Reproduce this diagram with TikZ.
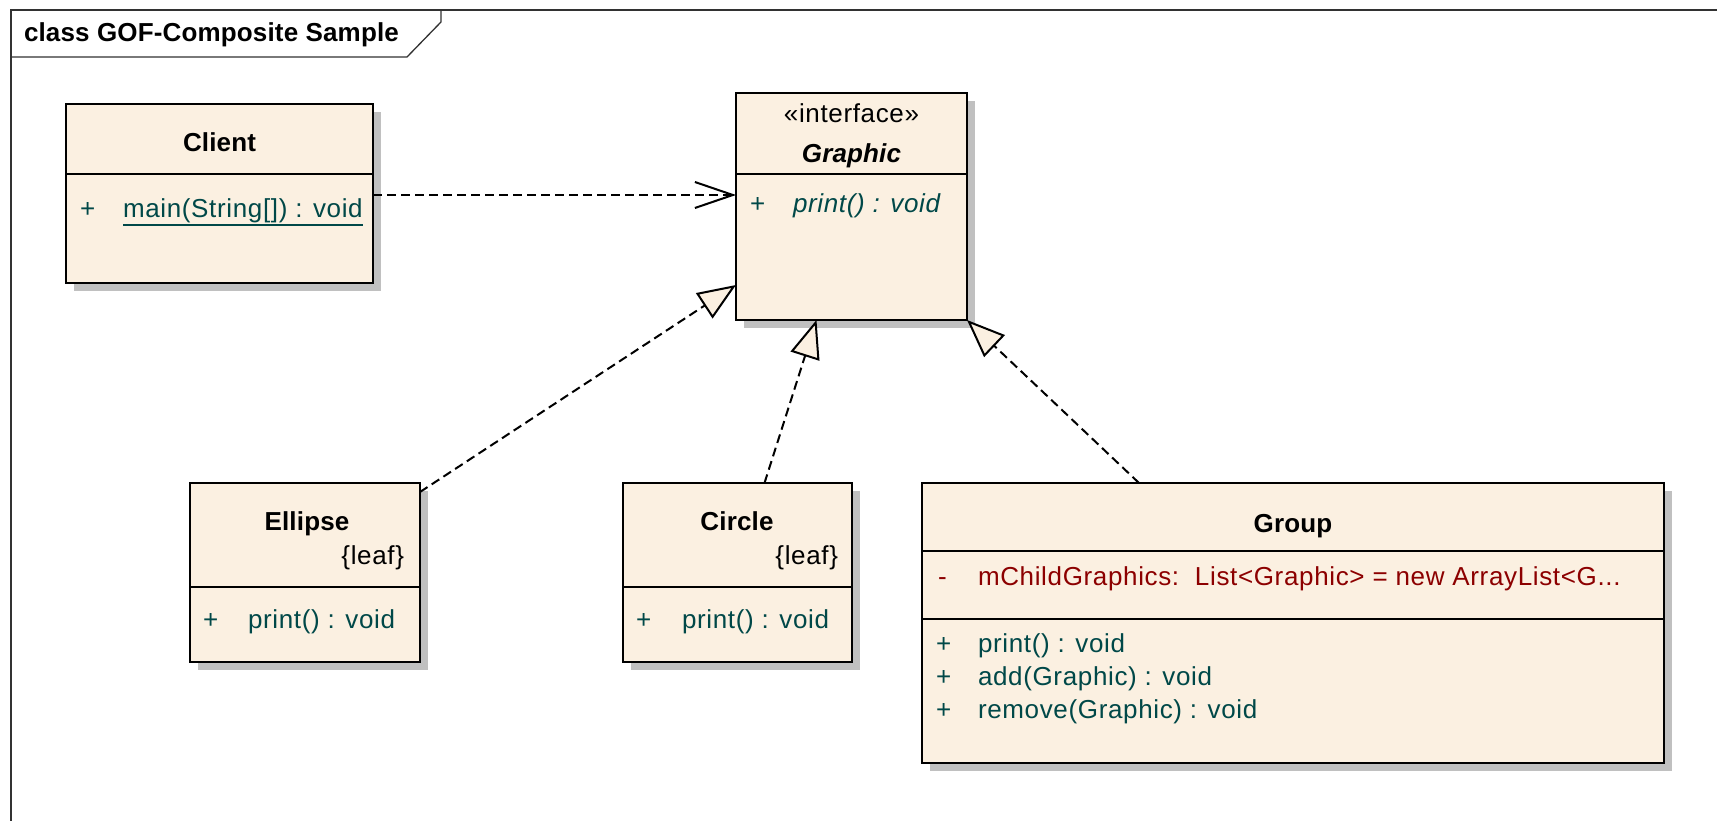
\documentclass[tikz,border=0pt]{standalone}
\usepackage{fontspec}
\setmainfont{Liberation Sans}[LetterSpace=2.5, BoldFeatures={LetterSpace=0.6}, BoldItalicFeatures={LetterSpace=0.6}]
\usetikzlibrary{arrows.meta,shadows}
\definecolor{boxfill}{RGB}{251,240,225}
\definecolor{shadowgray}{RGB}{192,192,192}
\definecolor{optext}{RGB}{0,72,72}
\definecolor{attrtext}{RGB}{140,0,0}
\definecolor{framecol}{RGB}{50,50,50}
\begin{document}
\begin{tikzpicture}[x=1pt,y=-1pt,
  umlbox/.style={draw=black, line width=2.2pt, fill=boxfill, inner sep=0pt, outer sep=0pt,
    anchor=north west, drop shadow={shadow xshift=8pt, shadow yshift=-8pt, fill=shadowgray, opacity=1}},
  divider/.style={draw=black, line width=2.2pt},
  txt/.style={inner sep=0pt, outer sep=0pt, font=\fontsize{26}{31}\selectfont},
  cname/.style={txt, font=\fontsize{26}{31}\selectfont\bfseries, anchor=base},
  optxt/.style={txt, text=optext, anchor=base west},
  attrtxt/.style={txt, text=attrtext, anchor=base west},
  depline/.style={line width=2pt, dash pattern=on 9pt off 5pt, -{Straight Barb[length=38pt,width=26pt,line width=2pt]}},
  realline/.style={line width=2pt, dash pattern=on 9pt off 5pt, -{Triangle[length=38pt,width=30pt,fill=boxfill,line width=2pt]}},
  framestyle/.style={draw=framecol, line width=1.3pt}
]
\useasboundingbox (0,0) rectangle (1717,821);
\fill[white] (0,0) rectangle (1717,821);

% diagram frame
\draw[framestyle] (11,821) -- (11,10) -- (1717,10);
\draw[framestyle] (11,57) -- (407,57) -- (441,22) -- (441,10);
\node[txt, font=\fontsize{26}{31}\selectfont\bfseries, anchor=base west] (title) at (24,42) {class GOF-Composite Sample};

% Client
\node[umlbox, minimum width=307pt, minimum height=179pt] (client) at (66,104) {};
\draw[divider] (client.west |- 0,174) -- (client.east |- 0,174);
\node[cname] (clientname) at (219.5,152) {Client};
\node[optxt] (clientplus) at (80,218) {+};
\node[optxt] (mainop) at (123,218) {main(String[]) : void};
\draw[optext, line width=1.6pt] ([yshift=-7pt]mainop.base west) -- ([yshift=-7pt]mainop.base east);

% Graphic
\node[umlbox, minimum width=231pt, minimum height=227pt] (graphic) at (736,93) {};
\draw[divider] (graphic.west |- 0,174) -- (graphic.east |- 0,174);
\node[txt, anchor=base] (stereo) at (851.5,123) {«interface»};
\node[cname, font=\fontsize{26}{31}\selectfont\bfseries\itshape] (graphicname) at (851.5,163) {Graphic};
\node[optxt] (graphicplus) at (750,213) {+};
\node[optxt, font=\fontsize{26}{31}\selectfont\itshape] (graphicop) at (793,213) {print() : void};

% Ellipse
\node[umlbox, minimum width=230pt, minimum height=179pt] (ellipse) at (190,483) {};
\draw[divider] (ellipse.west |- 0,587) -- (ellipse.east |- 0,587);
\node[cname] (ellipsename) at (307,530) {Ellipse};
\node[txt, anchor=base east] (ellipseleaf) at (404,564) {\{leaf\}};
\node[optxt] (ellipseplus) at (203,628) {+};
\node[optxt] (ellipseop) at (248,628) {print() : void};

% Circle
\node[umlbox, minimum width=229pt, minimum height=179pt] (circle) at (623,483) {};
\draw[divider] (circle.west |- 0,587) -- (circle.east |- 0,587);
\node[cname] (circlename) at (737,530) {Circle};
\node[txt, anchor=base east] (circleleaf) at (838,564) {\{leaf\}};
\node[optxt] (circleplus) at (636,628) {+};
\node[optxt] (circleop) at (682,628) {print() : void};

% Group
\node[umlbox, minimum width=742pt, minimum height=280pt] (group) at (922,483) {};
\draw[divider] (group.west |- 0,551) -- (group.east |- 0,551);
\draw[divider] (group.west |- 0,619) -- (group.east |- 0,619);
\node[cname] (groupname) at (1293,532) {Group};
\node[attrtxt] (groupminus) at (938,585) {-};
\node[attrtxt] (groupattr) at (978,585) {mChildGraphics:\ \ List<Graphic> = new ArrayList<G...};
\node[optxt] (groupplus1) at (936,652) {+};
\node[optxt] (groupop1) at (978,652) {print() : void};
\node[optxt] (groupplus2) at (936,685) {+};
\node[optxt] (groupop2) at (978,685) {add(Graphic) : void};
\node[optxt] (groupplus3) at (936,718) {+};
\node[optxt] (groupop3) at (978,718) {remove(Graphic) : void};

% connectors
\draw[depline] (client.east |- 0,195) -- (graphic.west |- 0,195);
\draw[realline] ([yshift=-9pt]ellipse.north east) -- ([yshift=35pt]graphic.south west);
\draw[realline] ([xshift=27pt]circle.north) -- ([xshift=-35pt]graphic.south);
\draw[realline] ([xshift=-154pt]group.north) -- (graphic.south east);
\end{tikzpicture}
\end{document}
